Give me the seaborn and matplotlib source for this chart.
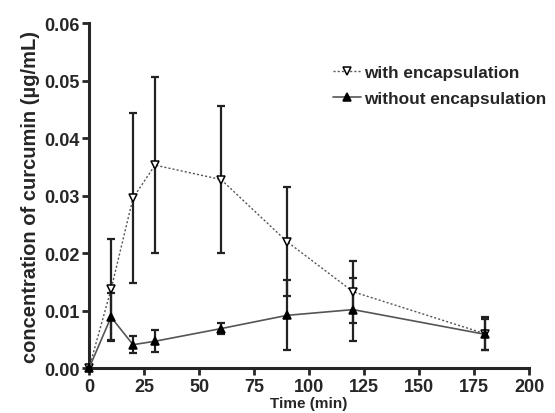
import numpy as np
import pandas as pd
import matplotlib
matplotlib.use("Agg")
import matplotlib.pyplot as plt
import seaborn as sns

time = [0, 10, 20, 30, 60, 90, 120, 180]
with_mean = [0, 0.0137, 0.0296, 0.0353, 0.0328, 0.0220, 0.0133, 0.0060]
with_sd = [0, 0.0087, 0.0147, 0.0153, 0.0128, 0.0095, 0.0054, 0.0029]
without_mean = [0, 0.0089, 0.0041, 0.0047, 0.0069, 0.0092, 0.0102, 0.0059]
without_sd = [0, 0.0042, 0.0015, 0.0019, 0.0010, 0.0061, 0.0055, 0.0027]

df = pd.DataFrame({
    'time': time * 2,
    'conc': with_mean + without_mean,
    'sd': with_sd + without_sd,
    'group': ['with encapsulation'] * len(time) + ['without encapsulation'] * len(time),
})

sns.set_style('ticks')
plt.rcParams['font.family'] = ['Liberation Sans', 'DejaVu Sans']
plt.rcParams['font.weight'] = 'bold'

fig = plt.figure(figsize=(5.55, 4.14), dpi=100)
ax = fig.add_axes([0.1604, 0.108, 0.793, 0.834])

styles = {
    'with encapsulation': dict(ls=(0, (1.5, 1.5)), marker='v', mfc='white', lw=1.0, color='#555555'),
    'without encapsulation': dict(ls='-', marker='^', mfc='black', lw=1.2, color='#555555'),
}
for name, sub in df.groupby('group'):
    st = styles[name]
    m = sub['sd'] > 0
    ax.errorbar(sub['time'][m], sub['conc'][m], yerr=sub['sd'][m], fmt='none',
                ecolor='#222222', elinewidth=1.6, capsize=2.7, capthick=1.6, zorder=2)
    sns.lineplot(data=sub, x='time', y='conc', ax=ax, label=name, color=st['color'],
                 linestyle=st['ls'], linewidth=st['lw'], marker=st['marker'],
                 markersize=6, markerfacecolor=st['mfc'], markeredgecolor='black',
                 markeredgewidth=1.1, clip_on=False, zorder=3)

ax.set_xlim(0, 200)
ax.set_ylim(0, 0.06)
ax.set_xticks(np.arange(0, 201, 25))
ax.set_yticks(np.arange(0, 0.061, 0.01))
ax.yaxis.set_major_formatter(matplotlib.ticker.FormatStrFormatter('%.2f'))
ax.tick_params(labelsize=13, width=2, length=5, direction='out', pad=2)
for s in ['left', 'bottom']:
    ax.spines[s].set_linewidth(2.2)
sns.despine(ax=ax)

ax.set_xlabel('Time (min)', fontsize=11, fontweight='bold', labelpad=1)
ax.set_ylabel('concentration of curcumin (\u00b5g/mL)', fontsize=14.5, fontweight='bold', labelpad=3)

ax.legend(loc='upper left', bbox_to_anchor=(0.555, 0.878), frameon=False, fontsize=12.4,
          handlelength=1.6, handletextpad=0.2, labelspacing=0.65, borderpad=0, borderaxespad=0)

fig.savefig('out.png', dpi=100)
